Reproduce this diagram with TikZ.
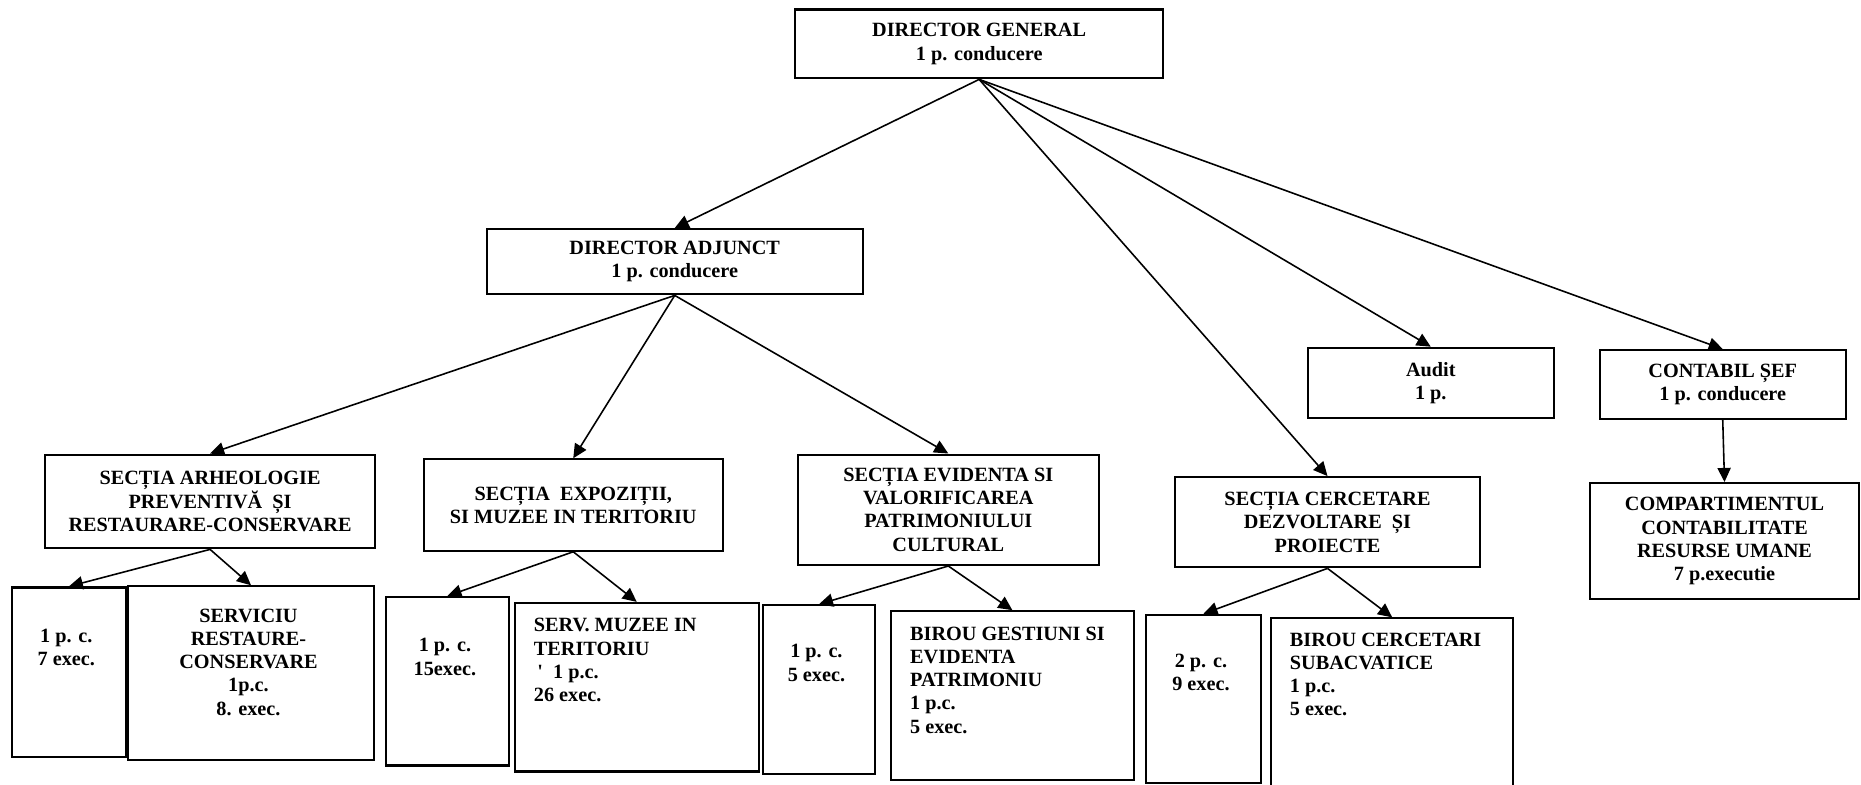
\documentclass[tikz,border=0pt]{standalone}
\usepackage{fontspec}
\setmainfont{Liberation Serif}
\usepackage{tikz}
\usetikzlibrary{arrows.meta}
\newdimen\pxu
\pxu=0.0237cm
\newcommand{\orgfont}{\fontsize{11.5}{13.2}\selectfont\bfseries}
\newcommand{\topcell}[4]{\parbox[c][#2\pxu][t]{#1\pxu}{\vspace*{#3\pxu}#4}}
\tikzset{
        orgbox/.style = {draw, line width = 1.2pt, inner sep = 0pt, align = center, font = \orgfont},
        link/.style = {line width = 0.9pt, -{Triangle[length = 8pt, width = 7.5pt]}},
}

\begin{document}
\begin{tikzpicture}[x = 0.0237cm, y = -0.0237cm]%{{{
                \useasboundingbox (0, 0) rectangle (1568, 661);

                \node (DG) [orgbox, minimum width = 310*\pxu, minimum height = 58*\pxu] at (825, 37) { DIRECTOR GENERAL\\ 1 p. conducere };
                \node (DA) [orgbox, minimum width = 317*\pxu, minimum height = 55*\pxu] at (568.5, 220.5) { DIRECTOR ADJUNCT\\ 1 p. conducere };

                \node (SA) [orgbox, minimum width = 278*\pxu, minimum height = 79*\pxu] at (177, 422.5) { SECȚIA ARHEOLOGIE\\ PREVENTIVĂ~ ȘI\\ RESTAURARE-CONSERVARE };
                \node (SE) [orgbox, minimum width = 252*\pxu, minimum height = 77*\pxu] at (483, 425.5) { SECȚIA~ EXPOZIȚII,\\ SI MUZEE IN TERITORIU };
                \node (SV) [orgbox, minimum width = 254*\pxu, minimum height = 93*\pxu] at (799, 429.5) { SECȚIA EVIDENTA SI\\ VALORIFICAREA\\ PATRIMONIULUI\\ CULTURAL };
                \node (SC) [orgbox, minimum width = 257*\pxu, minimum height = 76*\pxu] at (1118.5, 440) { SECȚIA CERCETARE\\ DEZVOLTARE~ ȘI\\ PROIECTE };
                \node (AU) [orgbox, minimum width = 207*\pxu, minimum height = 59*\pxu] at (1205.5, 322.5) { Audit\\ 1 p. };
                \node (CS) [orgbox, minimum width = 207*\pxu, minimum height = 58*\pxu] at (1451.5, 324) { CONTABIL ȘEF\\ 1 p. conducere };
                \node (CR) [orgbox, minimum width = 226*\pxu, minimum height = 98*\pxu] at (1453, 456) { COMPARTIMENTUL\\ CONTABILITATE\\ RESURSE UMANE\\ 7 p.executie };

                \node (A1) [orgbox] at (58, 566.5) { \topcell{92}{143}{35}{\centering 1 p. c.\\ 7 exec.} };
                \node (A2) [orgbox] at (211.5, 567) { \topcell{203}{146}{19}{\centering SERVICIU\\ RESTAURE-\\ CONSERVARE\\ 1p.c.\\ 8. exec.} };
                \node (E1) [orgbox] at (377, 574) { \topcell{100}{142}{35}{\centering 1 p. c.\\ 15exec.} };
                \node (E2) [orgbox] at (536.5, 579) { \topcell{201}{142}{13}{\raggedright\leftskip = 16\pxu SERV. MUZEE IN\\ TERITORIU\\ \hspace*{3\pxu}\textquotesingle\ \ 1 p.c.\\ 26 exec.} };
                \node (V1) [orgbox] at (690, 581) { \topcell{90}{142}{33}{\centering 1 p. c.\\ 5 exec.} };
                \node (V2) [orgbox] at (853, 586) { \topcell{200}{142}{13}{\raggedright\leftskip = 16\pxu BIROU GESTIUNI SI\\ EVIDENTA\\ PATRIMONIU\\ 1 p.c.\\ 5 exec.} };
                \node (C1) [orgbox] at (1014, 589) { \topcell{92}{142}{33}{\centering 2 p. c.\\ 9 exec.} };
                \node (C2) [orgbox] at (1173, 592) { \topcell{200}{142}{12}{\raggedright\leftskip = 16\pxu BIROU CERCETARI\\ SUBACVATICE\\ 1 p.c.\\ 5 exec.} };

                \draw [link] (DG.south) -- (DA.north);
                \draw [link] (DG.south) -- (SC.north);
                \draw [link] (DG.south) -- (AU.north);
                \draw [link] (DG.south) -- (CS.north);

                \draw [link] (DA.south) -- (SA.north);
                \draw [link] (DA.south) -- (SE.north);
                \draw [link] (DA.south) -- (SV.north);

                \draw [link] (SA.south) -- (A1.north);
                \draw [link] (SA.south) -- (A2.north);
                \draw [link] (SE.south) -- (E1.north);
                \draw [link] (SE.south) -- (E2.north);
                \draw [link] (SV.south) -- (V1.north);
                \draw [link] (SV.south) -- (V2.north);
                \draw [link] (SC.south) -- (C1.north);
                \draw [link] (SC.south) -- (C2.north);
                \draw [link] (CS.south) -- (CR.north);
            \end{tikzpicture}
\end{document}
